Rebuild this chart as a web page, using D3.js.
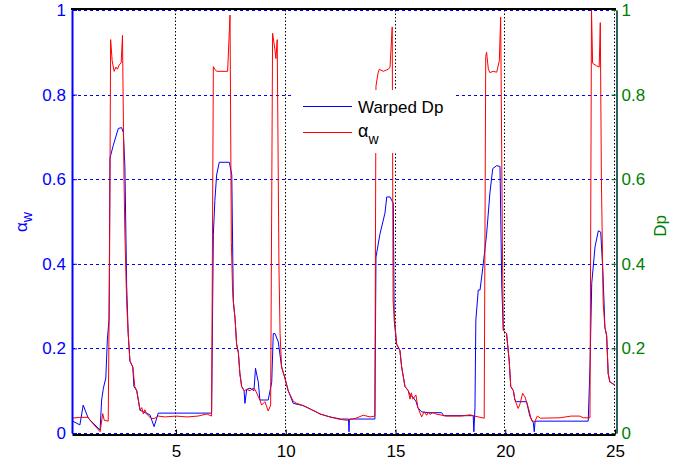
<!DOCTYPE html>
<html><head><meta charset="utf-8">
<script src="https://cdn.jsdelivr.net/npm/d3@7"></script>
<style>body{margin:0;background:#fff}svg{display:block}text{font-family:"Liberation Sans",Arial,sans-serif}</style>
</head><body><svg id="c" width="691" height="465"></svg>
<script>
const warpedDp = [[0.26,0.029],[0.62,0.019],[0.77,0.066],[1.00,0.035],[1.54,0.007],[1.61,0.078],[1.69,0.106],[1.80,0.13],[1.87,0.22],[1.95,0.27],[1.99,0.65],[2.14,0.68],[2.37,0.72],[2.52,0.722],[2.60,0.71],[2.67,0.63],[2.75,0.35],[2.82,0.235],[2.90,0.17],[3.03,0.156],[3.08,0.11],[3.21,0.10],[3.36,0.054],[3.51,0.05],[3.81,0.043],[4.00,0.015],[4.19,0.047],[6.62,0.047],[6.70,0.47],[6.77,0.55],[6.85,0.61],[6.97,0.64],[7.43,0.64],[7.54,0.61],[7.61,0.31],[7.69,0.27],[7.76,0.21],[7.84,0.19],[7.91,0.14],[7.99,0.11],[8.10,0.10],[8.14,0.07],[8.22,0.103],[8.37,0.106],[8.55,0.10],[8.62,0.153],[8.75,0.12],[8.82,0.078],[9.20,0.078],[9.36,0.12],[9.43,0.235],[9.51,0.235],[9.66,0.215],[9.81,0.156],[9.96,0.13],[10.11,0.10],[10.34,0.07],[10.78,0.065],[11.18,0.055],[11.56,0.045],[12.01,0.038],[12.5,0.033],[12.86,0.033],[12.88,0.003],[12.90,0.033],[14.06,0.033],[14.11,0.416],[14.29,0.47],[14.52,0.52],[14.60,0.558],[14.75,0.558],[14.90,0.543],[14.94,0.267],[15.05,0.21],[15.20,0.195],[15.28,0.156],[15.43,0.11],[15.58,0.10],[15.66,0.09],[15.79,0.085],[15.93,0.075],[16.02,0.06],[16.19,0.05],[16.5,0.048],[17.1,0.048],[17.2,0.041],[18.54,0.041],[18.57,0.003],[18.62,0.06],[18.66,0.267],[18.77,0.338],[18.85,0.338],[19.00,0.40],[19.15,0.47],[19.30,0.567],[19.43,0.625],[19.61,0.632],[19.76,0.63],[19.84,0.35],[19.91,0.243],[20.06,0.235],[20.18,0.17],[20.25,0.11],[20.37,0.10],[20.44,0.078],[20.52,0.074],[20.97,0.074],[21.12,0.04],[21.28,0.024],[21.32,0.003],[21.36,0.028],[23.78,0.028],[23.86,0.156],[23.94,0.354],[24.09,0.44],[24.24,0.478],[24.35,0.475],[24.44,0.39],[24.50,0.31],[24.54,0.25],[24.62,0.23],[24.69,0.14],[24.77,0.12],[24.85,0.118],[25.0,0.113]];

const alphaW = [[0.26,0.035],[0.62,0.037],[1.00,0.037],[1.08,0.03],[1.54,0.003],[1.66,0.046],[1.73,0.03],[1.91,0.028],[1.97,0.39],[2.02,0.93],[2.09,0.88],[2.18,0.855],[2.26,0.865],[2.33,0.86],[2.41,0.87],[2.50,0.875],[2.56,0.94],[2.63,0.60],[2.67,0.47],[2.75,0.31],[2.82,0.235],[2.90,0.17],[3.03,0.156],[3.12,0.11],[3.21,0.10],[3.36,0.054],[3.44,0.06],[3.51,0.045],[3.58,0.055],[3.66,0.045],[3.85,0.035],[4.00,0.034],[4.19,0.04],[4.5,0.038],[5.0,0.04],[5.5,0.038],[6.0,0.04],[6.4,0.045],[6.62,0.04],[6.70,0.866],[6.77,0.86],[6.85,0.855],[7.0,0.855],[7.35,0.855],[7.46,0.988],[7.52,0.45],[7.58,0.33],[7.69,0.27],[7.76,0.21],[7.84,0.19],[7.91,0.14],[7.99,0.11],[8.10,0.10],[8.22,0.103],[8.37,0.10],[8.50,0.106],[8.60,0.103],[8.82,0.078],[8.90,0.066],[9.05,0.074],[9.20,0.052],[9.31,0.066],[9.40,0.945],[9.51,0.905],[9.55,0.885],[9.61,0.93],[9.69,0.39],[9.74,0.235],[9.81,0.156],[9.96,0.13],[10.11,0.10],[10.34,0.075],[10.5,0.07],[10.78,0.065],[11.0,0.06],[11.18,0.055],[11.4,0.05],[11.56,0.045],[12.01,0.038],[12.4,0.033],[12.77,0.03],[13.2,0.035],[13.53,0.042],[13.84,0.038],[14.06,0.04],[14.11,0.82],[14.2,0.85],[14.26,0.86],[14.44,0.855],[14.67,0.86],[14.75,0.865],[14.85,0.96],[14.89,0.31],[14.97,0.26],[15.05,0.21],[15.20,0.195],[15.28,0.156],[15.43,0.11],[15.58,0.10],[15.66,0.08],[15.72,0.095],[15.79,0.08],[15.93,0.09],[16.02,0.06],[16.19,0.038],[16.3,0.05],[16.42,0.042],[16.5,0.05],[16.57,0.044],[16.71,0.048],[16.84,0.045],[17.3,0.04],[18.0,0.04],[18.4,0.043],[18.6,0.04],[19.04,0.035],[19.11,0.89],[19.15,0.90],[19.23,0.86],[19.30,0.852],[19.45,0.855],[19.61,0.853],[19.73,0.88],[19.79,0.983],[19.87,0.45],[19.91,0.243],[20.06,0.235],[20.18,0.17],[20.25,0.11],[20.37,0.10],[20.44,0.078],[20.59,0.058],[20.68,0.07],[20.79,0.094],[20.90,0.085],[21.05,0.06],[21.20,0.029],[21.35,0.027],[21.46,0.04],[21.6,0.035],[22.5,0.036],[23.0,0.04],[23.4,0.04],[23.55,0.036],[23.86,0.036],[23.93,1.0],[23.98,0.874],[24.16,0.868],[24.28,0.865],[24.33,0.97],[24.38,0.6],[24.46,0.31],[24.54,0.25],[24.62,0.23],[24.69,0.14],[24.77,0.12],[24.85,0.118],[25.0,0.113]];

const xTicks = [5, 10, 15, 20, 25];
const yTicks = [0, 0.2, 0.4, 0.6, 0.8, 1];
const xDomain = [0.26, 25];
const yDomain = [0, 1];
const seriesNames = ["Warped Dp", "α"];

const svg = d3.select("#c");
const L = 72, R = 615, T = 10, B = 433;
const x = d3.scaleLinear().domain(xDomain).range([L, R]);
const y = d3.scaleLinear().domain(yDomain).range([B, T]);
const y2 = d3.scaleLinear().domain(yDomain).range([B, T]);

const BLUE = "#0000ff", RED = "#ff0000", GREEN = "#008000", TEAL = "#2f5f5f";

svg.append("rect").attr("width", 691).attr("height", 465).attr("fill", "#fff");

// grid
svg.append("g").selectAll("line").data(yTicks).join("line")
  .attr("x1", L).attr("x2", R)
  .attr("y1", d => Math.round(y(d)) + 0.5).attr("y2", d => Math.round(y(d)) + 0.5)
  .attr("stroke", BLUE).attr("stroke-width", 1).attr("stroke-dasharray", "3,3");
svg.append("g").selectAll("line").data(xTicks).join("line")
  .attr("x1", d => Math.round(x(d)) - 0.5).attr("x2", d => Math.round(x(d)) - 0.5)
  .attr("y1", T).attr("y2", B)
  .attr("stroke", "#000").attr("stroke-width", 1).attr("stroke-dasharray", "1.5,2");

svg.append("clipPath").attr("id", "clip").append("rect")
  .attr("x", L).attr("y", T).attr("width", R - L).attr("height", B - T);

const line = d3.line().x(d => x(d[0])).y(d => y(d[1]));
const g = svg.append("g").attr("clip-path", "url(#clip)");
g.append("path").datum(warpedDp).attr("d", line).attr("fill", "none").attr("stroke", BLUE).attr("stroke-width", 1);
g.append("path").datum(alphaW).attr("d", line).attr("fill", "none").attr("stroke", RED).attr("stroke-width", 1);

// legend
const lg = svg.append("g");
lg.append("rect").attr("x", 292).attr("y", 90).attr("width", 164).attr("height", 63).attr("fill", "#fff");
lg.append("line").attr("x1", 303).attr("x2", 352).attr("y1", 106.5).attr("y2", 106.5).attr("stroke", BLUE);
lg.append("line").attr("x1", 303).attr("x2", 352).attr("y1", 132.5).attr("y2", 132.5).attr("stroke", RED);
lg.append("text").attr("x", 358).attr("y", 113).attr("font-size", 17).attr("fill", "#000").text(seriesNames[0]);
const lt = lg.append("text").attr("x", 358).attr("y", 137).attr("font-size", 18).attr("fill", "#000");
lt.append("tspan").text(seriesNames[1]);
lt.append("tspan").attr("dy", 7).attr("font-size", 14).text("w");

// axes
const fmt = d => d === 0 ? "0" : d === 1 ? "1" : d3.format(".1f")(d);
const ax = svg.append("g").attr("transform", `translate(${L},0)`)
  .call(d3.axisLeft(y).tickValues(yTicks).tickFormat(fmt).tickSizeInner(-5).tickSizeOuter(0).tickPadding(6));
ax.select(".domain").attr("stroke", BLUE).attr("stroke-width", 2);
ax.selectAll(".tick line").attr("stroke", BLUE);
ax.selectAll("text").attr("fill", BLUE).attr("font-size", 17).attr("font-family", "Liberation Sans");

const ar = svg.append("g").attr("transform", `translate(${R + 1.5},0)`)
  .call(d3.axisRight(y2).tickValues(yTicks).tickFormat(fmt).tickSizeInner(-5).tickSizeOuter(0).tickPadding(5));
ar.select(".domain").attr("stroke", TEAL).attr("stroke-width", 2);
ar.selectAll(".tick line").attr("stroke", GREEN);
ar.selectAll("text").attr("fill", GREEN).attr("font-size", 17).attr("font-family", "Liberation Sans");

const ab = svg.append("g").attr("transform", `translate(0,${B + 1.5})`)
  .call(d3.axisBottom(x).tickValues(xTicks).tickSizeInner(-5).tickSizeOuter(0).tickPadding(10));
ab.select(".domain").attr("stroke", "#000").attr("stroke-width", 2);
ab.selectAll(".tick line").attr("stroke", "#000");
ab.selectAll("text").attr("fill", "#000").attr("font-size", 17).attr("font-family", "Liberation Sans");

svg.append("line").attr("x1", L - 1).attr("x2", R + 1).attr("y1", T - 1).attr("y2", T - 1)
  .attr("stroke", "#000").attr("stroke-width", 2);

// axis titles
const yl = svg.append("text").attr("transform", "translate(27,222) rotate(-90)")
  .attr("text-anchor", "middle").attr("fill", BLUE).attr("font-size", 17);
yl.append("tspan").text("α");
yl.append("tspan").attr("dy", 5).attr("font-size", 14).text("w");

svg.append("text").attr("transform", "translate(666,226) rotate(-90)")
  .attr("text-anchor", "middle").attr("fill", GREEN).attr("font-size", 17).text("Dp");
</script></body></html>
